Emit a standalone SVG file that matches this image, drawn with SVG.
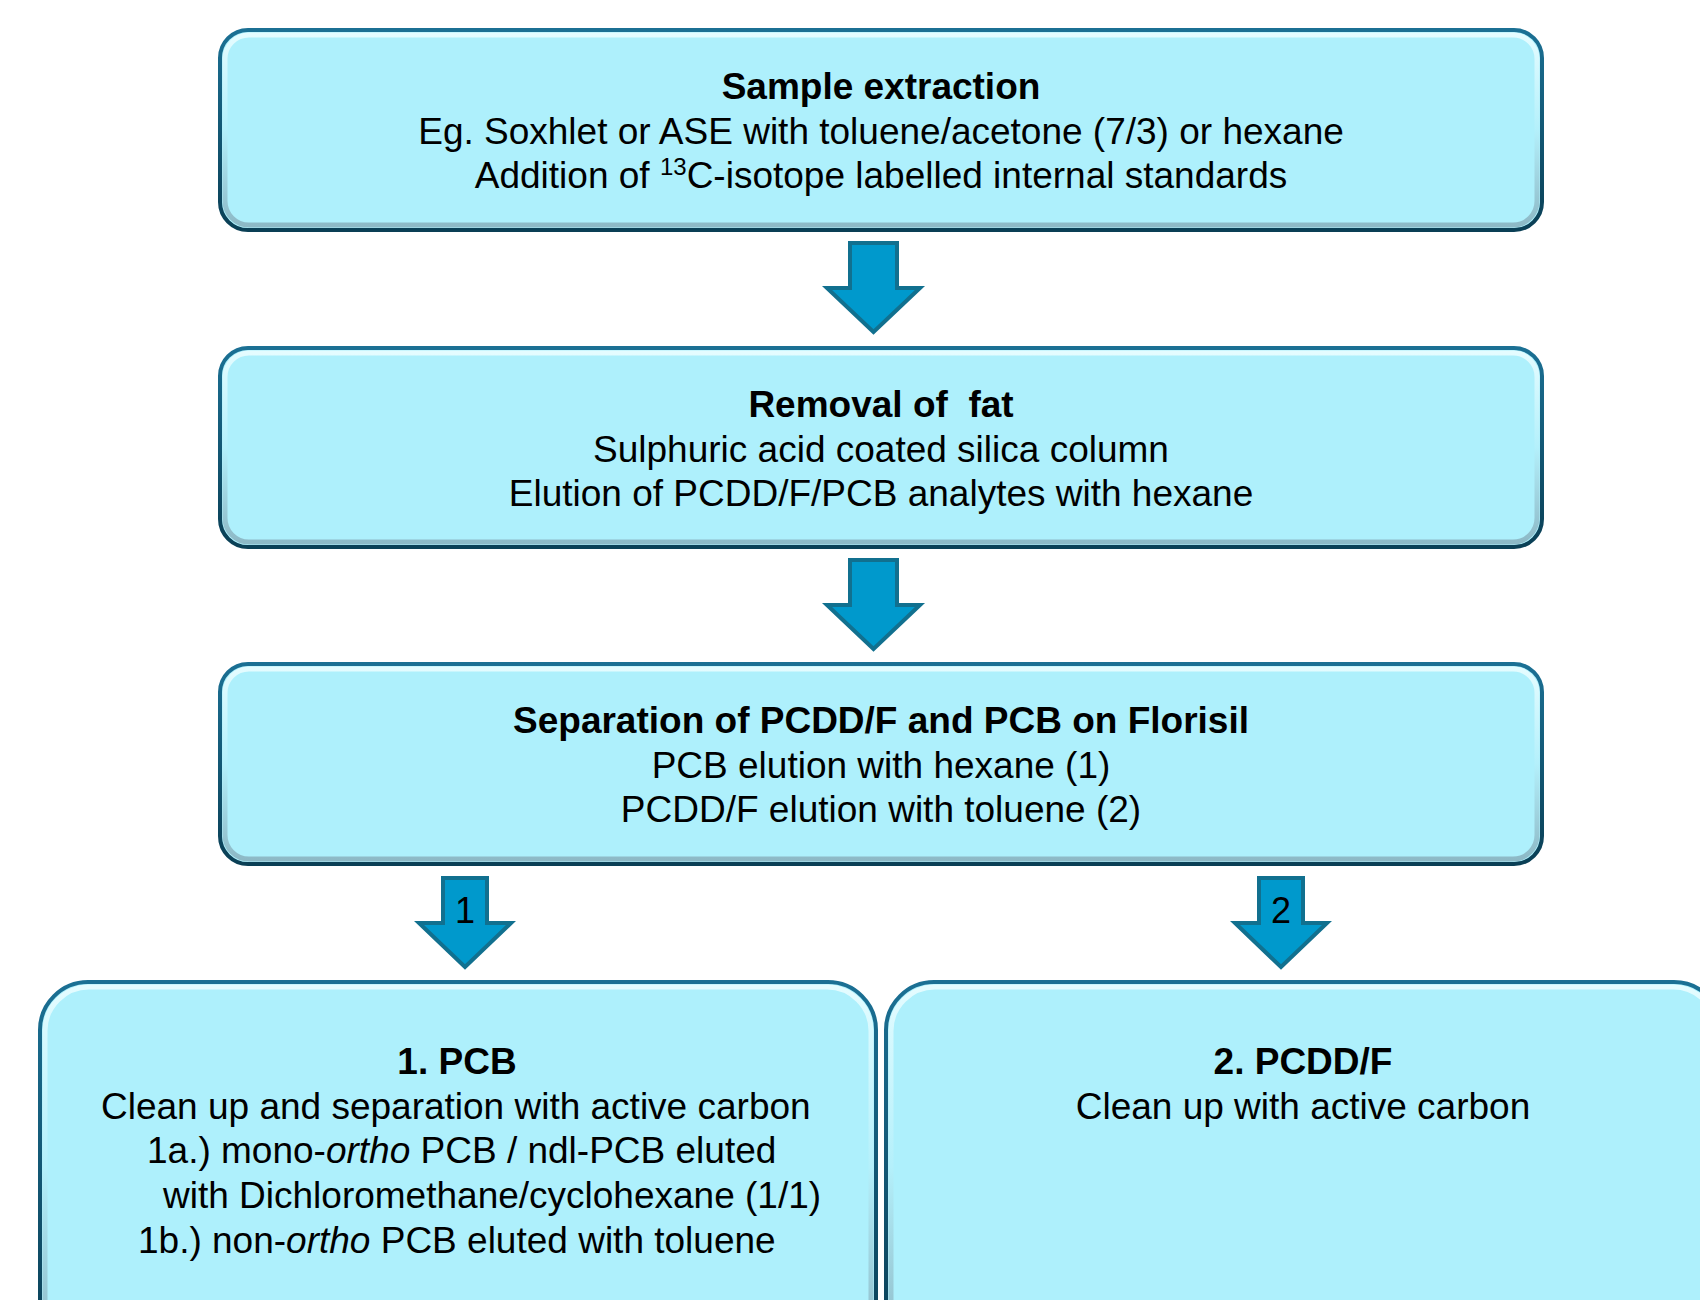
<svg xmlns="http://www.w3.org/2000/svg" width="1700" height="1300" viewBox="0 0 1700 1300">
<defs>
<linearGradient id="edge" x1="0" y1="0" x2="0" y2="1">
<stop offset="0" stop-color="#1B7094"/>
<stop offset="1" stop-color="#0A3F55"/>
</linearGradient>
<linearGradient id="bevel" x1="0" y1="0" x2="0" y2="1">
<stop offset="0" stop-color="#E4FCFF"/>
<stop offset="0.5" stop-color="#B4F0FB"/>
<stop offset="1" stop-color="#8DB9C6"/>
</linearGradient>
<style>
.box{fill:#AEF0FC;stroke:url(#edge);stroke-width:4}
.bev{fill:none;stroke:url(#bevel);stroke-width:5}
.arrow{fill:#0099CC;stroke:#11708F;stroke-width:4;stroke-linejoin:miter;stroke-miterlimit:10}
text{font-family:"Liberation Sans",Arial,sans-serif;font-size:37px;fill:#000}
.c{text-anchor:middle}
.b{font-weight:bold}
.n{font-size:36px;text-anchor:middle}
</style>
</defs>
<g id="connectors">
<polygon class="arrow" points="850,243 897,243 897,288 920,288 873.5,332 827,288 850,288"/>
<polygon class="arrow" points="850,560 897,560 897,605 920,605 873.5,649 827,605 850,605"/>
<polygon class="arrow" points="443,878 487,878 487,923 511,923 465,967 419,923 443,923"/>
<text class="n" x="465" y="923">1</text>
<polygon class="arrow" points="1259,878 1303,878 1303,923 1327,923 1281,967 1235,923 1259,923"/>
<text class="n" x="1281" y="923">2</text>
</g>
<g id="node-extraction">
<rect class="box" x="220" y="30" width="1322" height="200" rx="28"/>
<rect class="bev" x="225" y="35" width="1312" height="190" rx="24"/>
<text class="c b" x="881" y="99">Sample extraction</text>
<text class="c" x="881" y="144">Eg. Soxhlet or ASE with toluene/acetone (7/3) or hexane</text>
<text class="c" x="881" y="188">Addition of <tspan font-size="24" dy="-13">13</tspan><tspan dy="13">C-isotope labelled internal standards</tspan></text>
</g>
<g id="node-fat">
<rect class="box" x="220" y="348" width="1322" height="199" rx="28"/>
<rect class="bev" x="225" y="353" width="1312" height="189" rx="24"/>
<text class="c b" x="881" y="417" xml:space="preserve">Removal of  fat</text>
<text class="c" x="881" y="462">Sulphuric acid coated silica column</text>
<text class="c" x="881" y="506">Elution of PCDD/F/PCB analytes with hexane</text>
</g>
<g id="node-separation">
<rect class="box" x="220" y="664" width="1322" height="200" rx="28"/>
<rect class="bev" x="225" y="669" width="1312" height="190" rx="24"/>
<text class="c b" x="881" y="733">Separation of PCDD/F and PCB on Florisil</text>
<text class="c" x="881" y="778">PCB elution with hexane (1)</text>
<text class="c" x="881" y="822">PCDD/F elution with toluene (2)</text>
</g>
<g id="node-pcb">
<rect class="box" x="40" y="982" width="836" height="370" rx="48"/>
<rect class="bev" x="45" y="987" width="826" height="360" rx="44"/>
<text class="c b" x="457" y="1074">1. PCB</text>
<text x="101" y="1119">Clean up and separation with active carbon</text>
<text x="147" y="1163">1a.) mono-<tspan font-style="italic">ortho</tspan> PCB / ndl-PCB eluted</text>
<text x="163" y="1208">with Dichloromethane/cyclohexane (1/1)</text>
<text x="138" y="1253">1b.) non-<tspan font-style="italic">ortho</tspan> PCB eluted with toluene</text>
</g>
<g id="node-pcdd">
<rect class="box" x="886" y="982" width="836" height="370" rx="48"/>
<rect class="bev" x="891" y="987" width="826" height="360" rx="44"/>
<text class="c b" x="1303" y="1074">2. PCDD/F</text>
<text class="c" x="1303" y="1119">Clean up with active carbon</text>
</g>
</svg>
